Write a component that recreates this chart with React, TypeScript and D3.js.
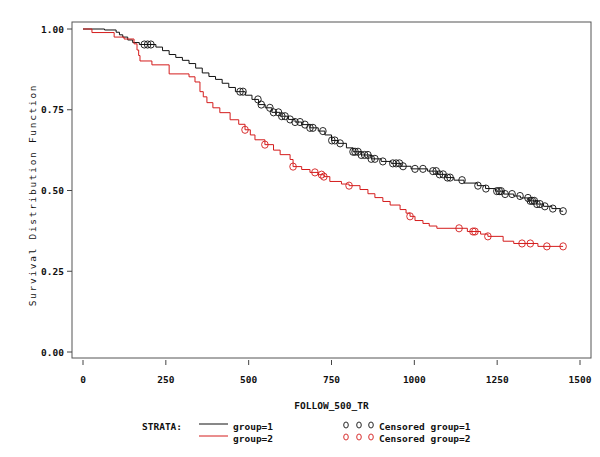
import React from 'react';
import * as d3 from 'd3';

// tick values
const xTicks = [0, 250, 500, 750, 1000, 1250, 1500];
const yTicks = [0, 0.25, 0.5, 0.75, 1];
const yTickLabels = ['0.00', '0.25', '0.50', '0.75', '1.00'];

// Kaplan-Meier steps: [time, survival after step]
const group1Steps: [number, number][] = [
  [0, 1], [65, 0.997], [100, 0.99], [110, 0.982], [120, 0.975], [135, 0.966], [150, 0.958],
  [170, 0.952], [220, 0.944], [240, 0.933], [260, 0.921], [280, 0.912], [300, 0.903],
  [320, 0.893], [340, 0.879], [360, 0.864], [380, 0.853], [400, 0.844], [420, 0.832],
  [440, 0.819], [460, 0.806], [490, 0.795], [510, 0.782], [530, 0.766], [550, 0.756],
  [570, 0.742], [595, 0.73], [620, 0.72], [640, 0.712], [660, 0.704], [685, 0.694],
  [710, 0.684], [730, 0.672], [750, 0.655], [770, 0.646], [795, 0.632], [815, 0.62],
  [840, 0.61], [870, 0.598], [900, 0.59], [930, 0.584], [960, 0.575], [990, 0.567],
  [1040, 0.56], [1070, 0.55], [1095, 0.54], [1120, 0.532], [1150, 0.523], [1190, 0.515],
  [1215, 0.506], [1245, 0.498], [1270, 0.489], [1300, 0.483], [1320, 0.477], [1345, 0.468],
  [1370, 0.458], [1390, 0.451], [1415, 0.444], [1440, 0.436],
];
const group1Censored = [
  185, 195, 205, 474, 483, 528, 538, 564, 575, 590, 600, 610, 625, 640, 655, 670, 685, 694,
  724, 751, 760, 776, 815, 821, 830, 840, 850, 860, 870, 881, 905, 935, 945, 955, 966,
  1002, 1026, 1056, 1066, 1076, 1087, 1100, 1108, 1144, 1192, 1216, 1249, 1256, 1262, 1274,
  1295, 1319, 1343, 1350, 1356, 1362, 1370, 1379, 1394, 1418, 1449,
];

const group2Steps: [number, number][] = [
  [0, 1], [27, 0.989], [94, 0.975], [124, 0.969], [154, 0.954], [163, 0.935], [168, 0.918],
  [172, 0.901], [208, 0.889], [260, 0.861], [320, 0.852], [338, 0.836], [353, 0.806],
  [363, 0.79], [374, 0.772], [392, 0.756], [413, 0.741], [444, 0.719], [470, 0.705],
  [489, 0.688], [505, 0.672], [519, 0.657], [549, 0.642], [575, 0.625], [595, 0.611],
  [625, 0.596], [634, 0.574], [660, 0.565], [685, 0.556], [710, 0.549], [727, 0.543],
  [745, 0.528], [780, 0.52], [803, 0.515], [836, 0.503], [860, 0.49], [881, 0.478],
  [905, 0.466], [927, 0.455], [957, 0.441], [975, 0.43], [987, 0.42], [1002, 0.407],
  [1026, 0.398], [1045, 0.39], [1068, 0.383], [1160, 0.373], [1200, 0.365], [1222, 0.358],
  [1268, 0.343], [1300, 0.336], [1373, 0.327],
];
const group2Censored = [
  489, 549, 634, 700, 720, 727, 803, 987, 1135, 1177, 1183, 1222, 1325, 1350, 1400, 1449,
];

const endTime = 1449;

const strata = [
  { name: 'group=1', color: '#111111', steps: group1Steps, censored: group1Censored },
  { name: 'group=2', color: '#d41c1c', steps: group2Steps, censored: group2Censored },
];

const survAt = (steps: [number, number][], t: number) => {
  let s = 1;
  for (const [tt, ss] of steps) if (tt <= t) s = ss;
  return s;
};

const font = "'DejaVu Sans Mono', monospace";

export default function App() {
  const frame = { left: 72, right: 591, top: 22, bottom: 358 };
  const x = d3.scaleLinear().domain([0, 1500]).range([83, 580]);
  const y = d3.scaleLinear().domain([0, 1]).range([352, 29]);

  const line = d3
    .line<[number, number]>()
    .x((d) => x(d[0]))
    .y((d) => y(d[1]))
    .curve(d3.curveStepAfter);

  const legendY = 426;

  return (
    <svg
      width={600}
      height={457}
      style={{ position: 'fixed', left: 0, top: 0, background: '#fff' }}
      fontFamily={font}
    >
      <rect x={0} y={0} width={600} height={457} fill="#fff" />
      {/* frame */}
      <rect
        x={frame.left}
        y={frame.top}
        width={frame.right - frame.left}
        height={frame.bottom - frame.top}
        fill="none"
        stroke="#555"
        strokeWidth={1}
      />
      {/* y axis */}
      {yTicks.map((t, i) => (
        <g key={'y' + t}>
          <line x1={frame.left - 5} x2={frame.left} y1={y(t)} y2={y(t)} stroke="#444" />
          <text x={frame.left - 8} y={y(t) + 3.5} textAnchor="end" fontSize={9.5} fontWeight="bold" fill="#111">
            {yTickLabels[i]}
          </text>
        </g>
      ))}
      <text
        transform={`translate(36,195) rotate(-90)`}
        textAnchor="middle"
        fontSize={9.5}
        letterSpacing={1.7}
        fill="#111"
      >
        Survival Distribution Function
      </text>
      {/* x axis */}
      {xTicks.map((t) => (
        <g key={'x' + t}>
          <line x1={x(t)} x2={x(t)} y1={frame.bottom + 2} y2={frame.bottom + 7} stroke="#444" />
          <text x={x(t)} y={frame.bottom + 25} textAnchor="middle" fontSize={9.5} fontWeight="bold" fill="#111">
            {t}
          </text>
        </g>
      ))}
      <text x={(83 + 580) / 2} y={409} textAnchor="middle" fontSize={9.5} fontWeight="bold" fill="#111">
        FOLLOW_500_TR
      </text>

      {/* curves */}
      {strata.map((s) => {
        const pts: [number, number][] = [...s.steps, [endTime, s.steps[s.steps.length - 1][1]]];
        return (
          <g key={s.name}>
            <path d={line(pts) || ''} fill="none" stroke={s.color} strokeWidth={1} />
            {s.censored.map((c, i) => (
              <ellipse
                key={i}
                cx={x(c)}
                cy={y(survAt(s.steps, c))}
                rx={3.3}
                ry={3.6}
                fill="none"
                stroke={s.color}
                strokeWidth={0.9}
              />
            ))}
          </g>
        );
      })}

      {/* legend */}
      <text x={142} y={legendY + 4} fontSize={9.5} fontWeight="bold" fill="#111">STRATA:</text>
      {strata.map((s, i) => (
        <g key={'lg' + s.name}>
          <line x1={199} x2={228} y1={legendY - 2 + i * 12} y2={legendY - 2 + i * 12} stroke={s.color} strokeWidth={1} />
          <text x={233} y={legendY + 4 + i * 12} fontSize={9.5} fontWeight="bold" fill="#111">{s.name}</text>
          {[346, 359, 371].map((cx) => (
            <ellipse key={cx} cx={cx} cy={legendY - 1 + i * 12} rx={2.3} ry={3} fill="none" stroke={s.color} strokeWidth={0.9} />
          ))}
          <text x={379} y={legendY + 4 + i * 12} fontSize={9.5} fontWeight="bold" fill="#111">Censored {s.name}</text>
        </g>
      ))}
    </svg>
  );
}
